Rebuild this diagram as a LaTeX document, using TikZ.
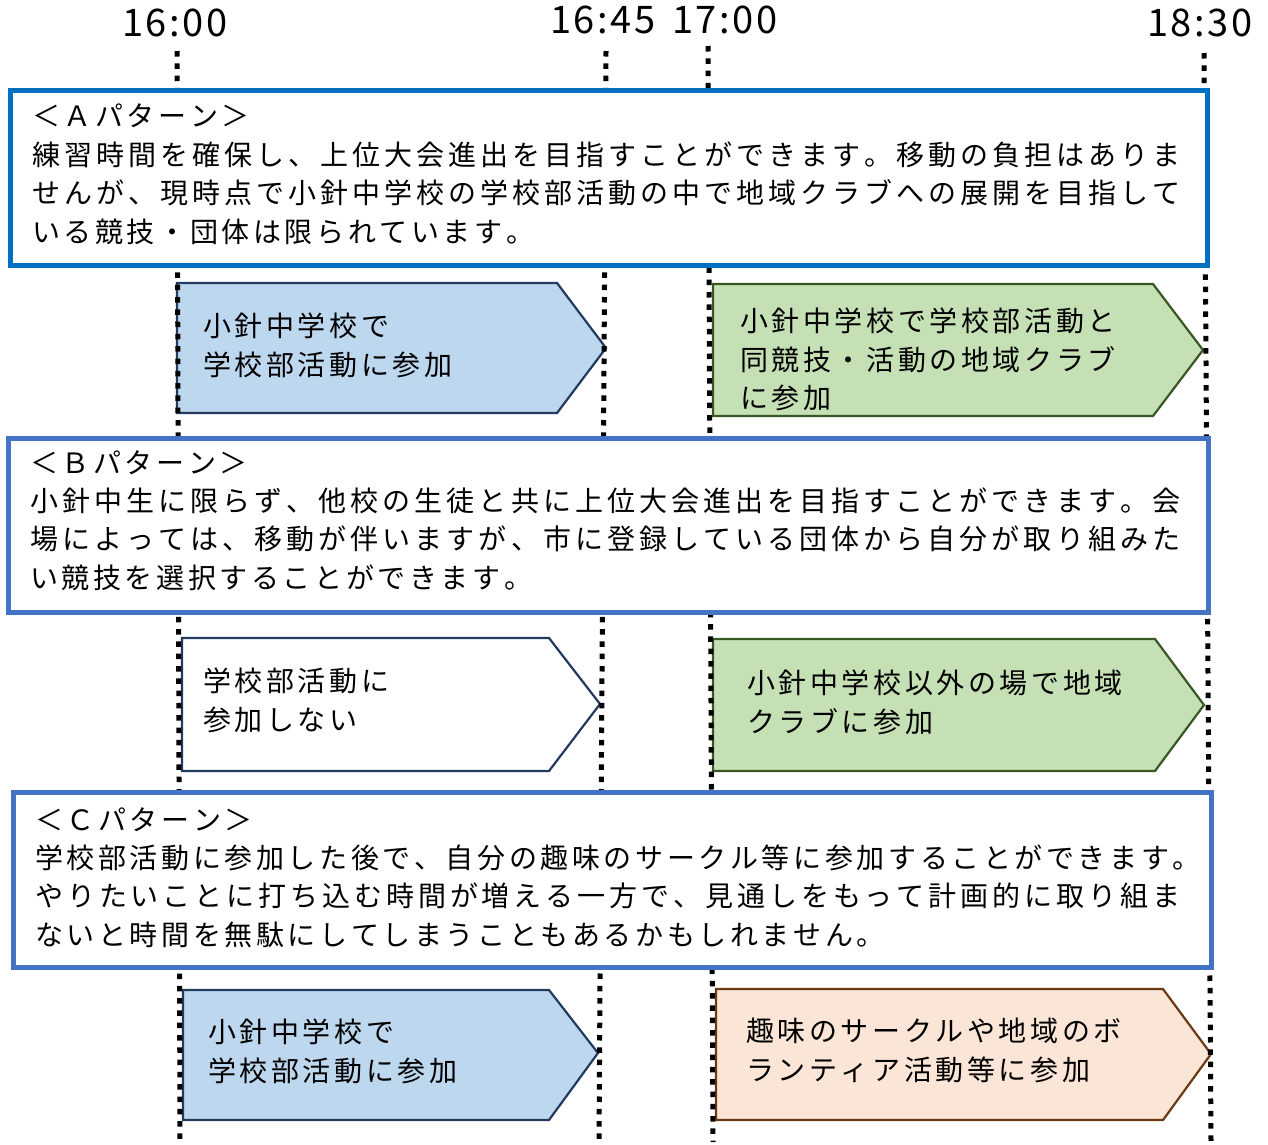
\documentclass[tikz,border=0pt]{standalone}
\usepackage{fontspec}
\setmainfont{Noto Sans CJK JP}
\newfontfamily\lblfont[LetterSpace=7]{Noto Sans CJK JP}
\newXeTeXintercharclass\jpc
\newcount\jpn
\newskip\jpgap
\jpgap=3.6pt plus 40pt
\def\jprange#1#2{\jpn=#1 \loop\XeTeXcharclass\jpn=\jpc\relax\advance\jpn by 1\relax\ifnum\jpn<#2\relax\repeat}
\jprange{"3001}{"3100}
\jprange{"4E00}{"A000}
\jprange{"FF01}{"FFF0}
\XeTeXinterchartoks\jpc\jpc={\hskip\jpgap}
\XeTeXinterchartokenstate=1
\definecolor{boxa}{HTML}{0070C0}
\definecolor{boxbc}{HTML}{4472C4}
\definecolor{bluefill}{HTML}{BDD7EE}
\definecolor{greenfill}{HTML}{C5E0B4}
\definecolor{peachfill}{HTML}{FBE5D6}
\definecolor{navyline}{HTML}{223A5E}
\definecolor{greenline}{HTML}{385723}
\definecolor{brownline}{HTML}{6B3A14}
\tikzset{
  guide/.style={line width=5pt, dash pattern=on 5.5pt off 6.8pt},
  patbox/.style={line width=5pt, fill=white},
  arrowbox/.style={line width=2.2pt, line join=miter},
  txt/.style={anchor=north west, inner sep=0pt, align=left, font=\fontsize{28}{38.4}\selectfont},
  lbl/.style={anchor=base, inner sep=0pt, font=\lblfont\fontsize{38}{40}\selectfont},
}
\begin{document}
\begin{tikzpicture}[x=1pt,y=-1pt]
\useasboundingbox (0,0) rectangle (1268,1144);
% time labels
\node[lbl] (l1) at (175,36) {16:00};
\node[lbl] (l2) at (603,33) {16:45};
\node[lbl] (l3) at (725,33) {17:00};
\node[lbl] (l4) at (1200,36) {18:30};
% arrows
\draw[arrowbox, draw=navyline, fill=bluefill] (177,283) -- (557,283) -- (606,348) -- (557,413) -- (177,413) -- cycle;
\draw[arrowbox, draw=greenline, fill=greenfill] (713,284) -- (1153,284) -- (1203,350) -- (1153,416) -- (713,416) -- cycle;
\draw[arrowbox, draw=navyline, fill=white] (182,638) -- (549,638) -- (600,704) -- (549,771) -- (182,771) -- cycle;
\draw[arrowbox, draw=greenline, fill=greenfill] (713,639) -- (1155,639) -- (1204,705) -- (1155,771) -- (713,771) -- cycle;
\draw[arrowbox, draw=navyline, fill=bluefill] (183,990) -- (549,990) -- (598,1053) -- (549,1120) -- (183,1120) -- cycle;
\draw[arrowbox, draw=brownline, fill=peachfill] (716,989) -- (1163,989) -- (1211,1054) -- (1163,1120) -- (716,1120) -- cycle;
% guide lines
\coordinate (g1t) at (177,51); \coordinate (g1b) at (180,1142);
\coordinate (g2t) at (606,51); \coordinate (g2b) at (599,1140);
\coordinate (g3t) at (708,46); \coordinate (g3b) at (713,1142);
\coordinate (g4t) at (1204,53); \coordinate (g4b) at (1211,1142);
\foreach \i in {1,2,3,4}{
  \draw[guide] (g\i t) -- (g\i b);
}
% pattern boxes
\draw[patbox, draw=boxa] (10,90) rectangle (1207,265);
\draw[patbox, draw=boxbc] (8,438) rectangle (1208,612);
\draw[patbox, draw=boxbc] (13,792) rectangle (1211,967);
% box texts
\node[txt] (ta) at (32,104) {＜Ａパターン＞\\
\makebox[1148pt][s]{練習時間を確保し、上位大会進出を目指すことができます。移動の負担はありま}\\
\makebox[1148pt][s]{せんが、現時点で小針中学校の学校部活動の中で地域クラブへの展開を目指して}\\
いる競技・団体は限られています。};
\node[txt] (tb) at (30,450) {＜Ｂパターン＞\\
\makebox[1150pt][s]{小針中生に限らず、他校の生徒と共に上位大会進出を目指すことができます。会}\\
\makebox[1150pt][s]{場によっては、移動が伴いますが、市に登録している団体から自分が取り組みた}\\
い競技を選択することができます。};
\node[txt] (tc) at (35,807) {＜Ｃパターン＞\\
学校部活動に参加した後で、自分の趣味のサークル等に参加することができます。\\
\makebox[1145pt][s]{やりたいことに打ち込む時間が増える一方で、見通しをもって計画的に取り組ま}\\
ないと時間を無駄にしてしまうこともあるかもしれません。};
% arrow texts
\node[txt] (a1) at (203,313) {小針中学校で\\学校部活動に参加};
\node[txt] (a2) at (740,308) {小針中学校で学校部活動と\\同競技・活動の地域クラブ\\に参加};
\node[txt] (b1) at (203,668) {学校部活動に\\参加しない};
\node[txt] (b2) at (747,670) {小針中学校以外の場で地域\\クラブに参加};
\node[txt] (c1) at (208,1019) {小針中学校で\\学校部活動に参加};
\node[txt] (c2) at (746,1018) {趣味のサークルや地域のボ\\ランティア活動等に参加};
\end{tikzpicture}
\end{document}
